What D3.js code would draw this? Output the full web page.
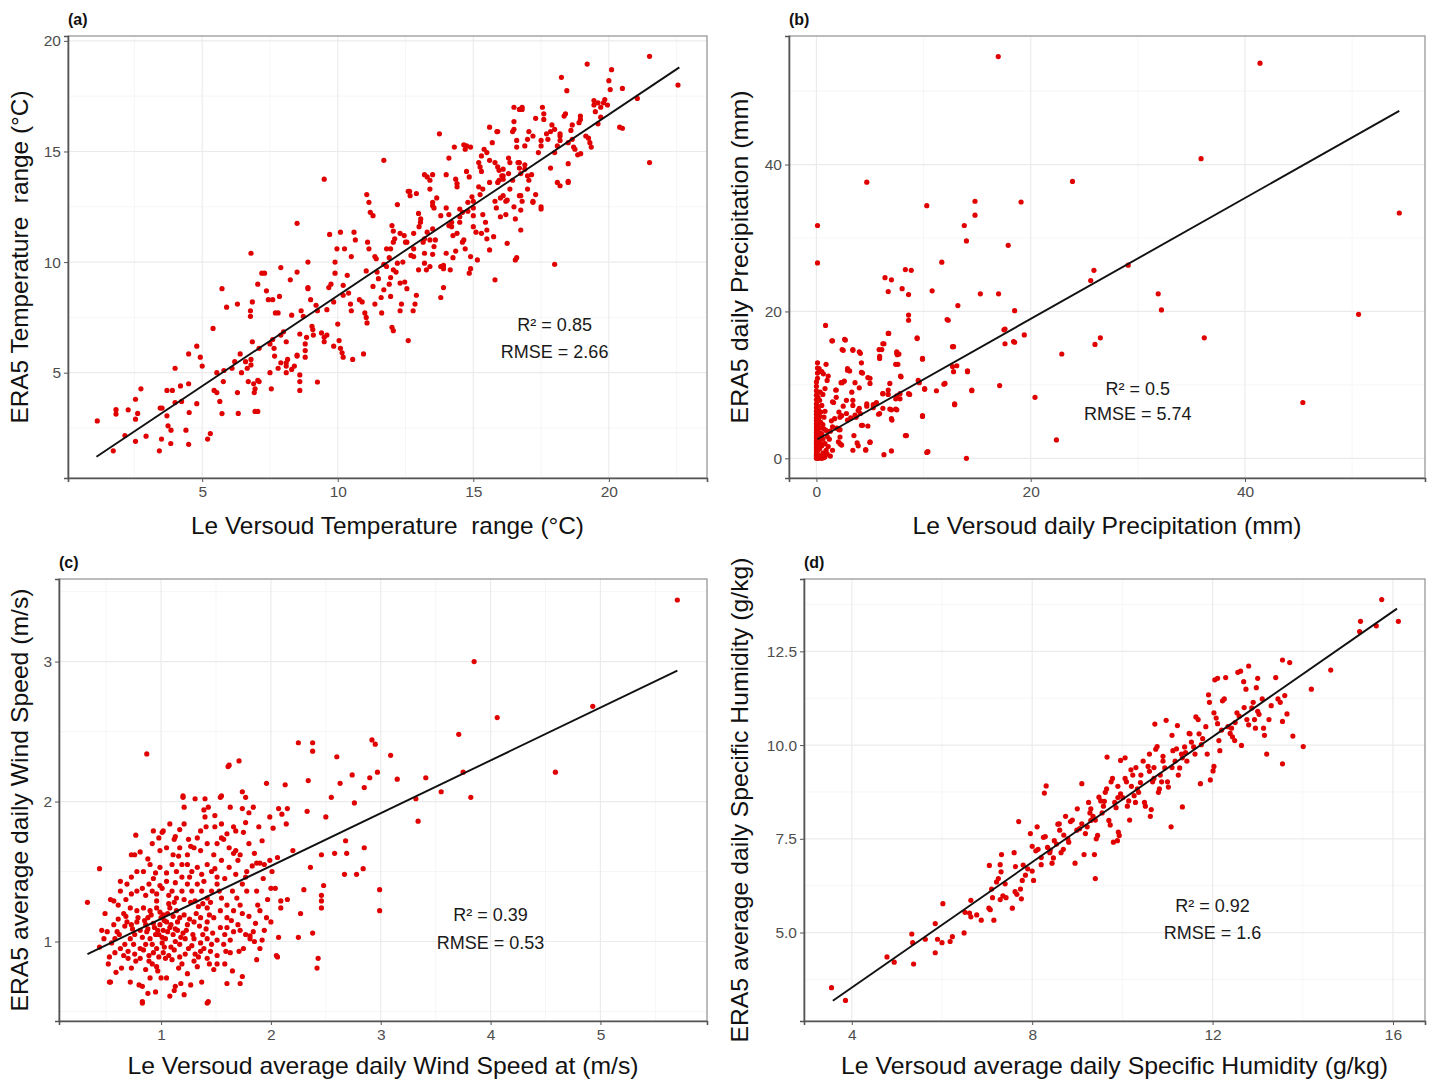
<!DOCTYPE html>
<html>
<head>
<meta charset="utf-8">
<script src="https://cdn.jsdelivr.net/npm/d3@7"></script>
<style>
  body { margin: 0; background: #fff; }
  svg { display: block; }
  text { font-family: 'Liberation Sans', Arial, sans-serif; }
</style>
</head>
<body>
<svg id="chart" width="1432" height="1080"></svg>
<script>
// ---- (a) daily temperature range: [station, ERA5] ----
const tempRange = [
  [1.13,2.82],[1.72,1.47],[1.82,3.33],[1.82,3.13],[2.15,2.16],[2.27,3.32],[2.54,3.8],[2.54,2.9],[2.54,1.9],[2.62,3.16],
  [2.74,4.27],[2.93,2.13],[3.42,1.47],[3.45,3.4],[3.52,3.4],[3.5,2.0],[3.7,4.2],[3.9,4.2],[3.7,3.05],[3.74,2.6],
  [3.85,2.4],[3.84,1.8],[4.0,5.2],[4.0,3.65],[4.2,4.4],[4.24,3.7],[4.4,2.4],[4.5,1.76],[4.5,5.85],[4.52,3.2],
  [4.5,4.5],[4.8,6.2],[4.8,3.6],[4.93,5.7],[5.0,5.3],[5.2,2.0],[5.3,2.25],[5.4,7.0],[5.44,4.2],[5.54,4.1],
  [5.54,5.0],[5.65,3.7],[5.73,3.15],[5.73,8.8],[5.78,4.6],[5.8,5.1],[5.9,7.96],[6.1,5.2],[6.2,5.5],[6.3,4.1],
  [6.4,5.85],[6.33,3.16],[6.3,8.1],[6.45,5.0],[6.6,5.5],[6.66,5.2],[6.7,4.6],[6.78,7.8],[6.78,7.55],[6.8,10.4],
  [6.85,8.2],[6.85,6.4],[6.8,5.35],[6.8,5.6],[6.9,4.5],[6.95,4.27],[6.92,4.1],[6.95,3.25],[7.05,3.25],[7.05,4.65],
  [7.1,4.6],[7.1,6.1],[7.2,9.5],[7.3,9.5],[7.05,9.0],[7.37,8.7],[7.44,8.3],[7.6,8.3],[7.5,6.3],[7.6,6.5],
  [7.5,5.0],[7.55,4.27],[7.65,6.1],[7.67,5.75],[7.7,7.7],[7.8,7.7],[7.8,5.2],[7.9,5.45],[7.9,9.75],[7.85,8.45],
  [7.9,6.7],[8.0,6.85],[8.1,6.4],[8.1,5.0],[8.1,5.3],[8.1,5.45],[8.15,5.6],[8.3,5.15],[8.25,9.2],[8.3,7.6],
  [8.4,5.3],[8.5,5.75],[8.5,5.8],[8.5,9.55],[8.5,11.75],[8.6,4.9],[8.6,4.6],[8.6,4.2],[8.6,6.75],[8.65,7.8],
  [8.73,7.55],[8.8,5.7],[8.8,6.0],[8.8,6.3],[8.85,6.6],[8.9,8.8],[8.9,8.85],[8.9,10.0],[9.0,8.3],[9.05,7.1],
  [9.08,6.95],[9.1,6.7],[9.2,8.05],[9.25,7.8],[9.25,4.58],[9.4,6.8],[9.5,6.6],[9.5,6.4],[9.5,13.75],[9.6,7.85],
  [9.6,6.7],[9.67,8.85],[9.75,9.0],[9.7,11.25],[9.85,8.2],[9.85,6.2],[9.9,10.0],[9.9,9.5],[9.97,10.6],[10.0,7.2],
  [10.05,6.45],[10.1,6.1],[10.16,5.9],[10.1,11.35],[10.2,8.95],[10.2,8.5],[10.2,5.7],[10.25,10.6],[10.35,9.4],[10.4,8.6],
  [10.47,8.1],[10.5,7.8],[10.5,10.25],[10.55,5.6],[10.6,11.35],[10.65,11.0],[10.8,8.3],[10.9,8.2],[11.0,7.7],[11.05,7.5],
  [11.08,7.25],[10.95,5.85],[11.05,9.6],[11.07,13.05],[11.15,12.7],[11.1,10.9],[11.15,10.6],[11.2,12.25],[11.3,12.1],[11.3,8.9],
  [11.37,8.1],[11.37,10.25],[11.42,10.15],[11.45,9.55],[11.5,9.25],[11.6,8.4],[11.62,7.7],[11.7,14.6],[11.8,10.6],[11.9,10.2],
  [11.9,9.0],[11.95,9.3],[12.0,11.65],[12.05,11.4],[12.1,11.05],[12.15,9.55],[12.2,9.95],[12.0,7.05],[12.05,6.9],[12.2,12.6],
  [12.3,7.8],[12.35,8.1],[12.45,11.2],[12.5,10.9],[12.47,9.1],[12.55,8.8],[12.6,6.45],[12.65,13.2],[12.67,13.0],[12.7,10.3],
  [12.8,10.6],[12.78,7.8],[12.85,8.1],[12.9,8.5],[12.98,12.2],[13.06,11.95],[12.98,9.65],[13.15,10.9],[13.2,11.05],[13.3,11.35],
  [13.2,9.95],[13.27,9.65],[13.3,13.85],[13.4,13.7],[13.5,12.55],[13.55,12.45],[13.65,12.9],[13.5,10.35],[13.55,10.7],[13.75,15.8],
  [13.8,8.4],[13.85,9.8],[13.9,9.7],[13.9,9.85],[13.9,8.85],[14.0,12.45],[14.1,12.15],[14.1,14.7],[14.1,11.65],[14.2,11.6],
  [14.25,11.2],[14.25,10.2],[14.35,10.5],[14.35,13.75],[14.4,13.55],[14.4,13.4],[14.5,11.8],[14.5,12.05],[14.6,12.25],[14.6,10.9],
  [14.7,10.6],[14.7,15.1],[14.75,15.25],[14.75,14.1],[14.85,13.85],[14.85,9.5],[14.9,9.7],[14.95,12.95],[15.0,12.75],[15.0,12.45],
  [15.0,11.6],[15.1,11.35],[15.2,14.5],[15.25,14.3],[15.2,13.4],[15.25,13.05],[15.35,13.3],[15.35,12.15],[15.45,11.8],[15.5,11.05],
  [15.5,14.95],[15.6,14.6],[15.7,15.4],[15.8,9.2],[15.8,12.75],[15.85,12.45],[15.87,15.9],[15.95,14.15],[15.95,13.7],[16.05,13.9],
  [16.1,13.75],[16.1,13.0],[16.2,12.75],[16.2,12.15],[16.3,14.7],[16.35,14.5],[16.35,13.3],[16.45,13.7],[16.45,15.9],[16.5,16.35],
  [16.55,11.95],[16.6,10.2],[16.65,14.5],[16.7,14.25],[16.75,14.0],[16.7,13.0],[16.8,12.75],[16.75,12.35],[16.7,16.9],[16.8,16.9],
  [16.9,15.25],[17.0,15.55],[17.05,15.9],[17.05,13.7],[17.15,13.95],[17.2,12.75],[17.3,13.05],[17.4,14.95],[17.5,15.25],[17.5,12.4],
  [17.55,17.0],[17.6,16.45],[17.75,15.55],[17.85,15.9],[17.9,16.2],[18.0,14.95],[18.0,9.9],[18.1,15.25],[18.2,15.5],[18.2,15.8],
  [18.2,13.45],[18.25,18.35],[18.35,16.6],[18.4,16.7],[18.45,17.75],[18.5,14.45],[18.5,13.6],[18.6,15.95],[18.65,15.55],[18.75,15.1],
  [18.85,14.85],[18.9,16.3],[18.95,16.6],[19.2,18.95],[19.25,15.6],[19.35,15.2],[19.45,17.1],[19.5,16.8],[19.6,17.2],[19.6,16.25],
  [19.7,16.55],[19.8,17.2],[19.85,17.35],[20.0,18.2],[20.1,18.7],[20.05,17.8],[20.4,16.1],[20.5,16.05],[20.5,17.85],[21.05,17.4],
  [21.5,19.3],[21.5,14.5],[22.55,18.0],
  [13.6,11.0],[14.8,12.3],[15.6,13.6],[16.0,12.9],[16.9,14.4],[13.0,11.6],[12.4,10.0],[11.7,9.9],[15.3,14.1],[16.6,15.2],
  [13.2,13.95],[13.5,13.95],[12.6,13.2],[12.9,13.1],[13.4,13.3],[13.5,12.7],[14.0,13.95],[14.3,15.2],[14.65,15.3],[14.9,15.2],
  [15.3,14.8],[15.4,15.1],[15.6,16.1],[15.9,15.9],[15.8,14.5],[15.9,14.3],[16.1,14.2],[16.3,14.0],[15.9,13.6],[16.1,13.9],
  [16.5,16.0],[16.6,15.5],[16.7,14.5],[16.9,14.2],[17.0,13.9],[16.5,17.0],[16.8,17.0],[17.3,16.5],[17.6,16.7],[17.2,15.7],
  [17.5,15.5],[17.7,15.8],[18.0,16.0],[18.2,15.7],[18.5,15.4],[18.65,16.2],[18.95,16.45],[18.7,15.2],[18.96,14.9],[17.85,14.25],
  [18.1,13.6],[18.5,13.65],[19.45,17.3],[19.7,17.0],[19.95,17.1],[19.15,15.7],[19.3,15.4],[14.5,12.4],[14.8,12.7],[15.0,12.1],
  [14.2,11.8],[14.4,11.3],[14.65,11.0],[13.8,12.1],[13.5,11.5],[13.4,11.0],[13.05,11.8],[12.8,11.3],[12.55,10.9],[12.3,11.3],
  [12.05,10.9],[11.95,10.6],[12.8,10.25],[13.2,10.4],[13.4,9.8],[13.8,9.8],[14.15,9.65],[14.0,10.4],[11.8,9.8],[12.05,9.65],
  [12.3,9.05],[11.7,8.75],[11.95,8.45],[14.9,10.25],[15.15,10.1],[15.6,10.55],[15.3,11.3],[15.5,11.45],[15.75,11.15],[16.0,12.05],
  [16.25,12.8],[16.5,12.5],[16.75,13.0],[17.0,13.3],[17.2,12.7],[16.25,10.85],[16.75,11.45],[16.55,10.1],[17.5,12.5]
];
const tempFit = [[1.1, 1.2], [22.6, 18.8]];

// ---- (b) daily precipitation (mm) ----
const precip = [
  [16.97,54.7],[41.4,53.8],[35.9,40.8],[4.7,37.6],[23.9,37.7],[14.8,35.0],[19.1,34.9],[10.3,34.4],[14.8,33.1],[54.4,33.4],
  [0.1,31.7],[13.8,31.7],[14.0,29.6],[17.9,29.0],[0.1,26.6],[11.7,26.7],[29.1,26.3],[25.9,25.6],[8.3,25.7],[8.85,25.6],
  [6.4,24.6],[7.0,24.3],[25.6,24.2],[8.0,23.1],[6.7,22.7],[10.8,22.8],[8.6,22.3],[15.3,22.4],[17.0,22.4],[31.9,22.4],
  [13.2,20.8],[18.5,20.1],[32.2,20.2],[50.6,19.6],[8.6,19.5],[8.6,18.8],[12.3,18.8],[0.85,18.1],[17.5,17.5],[6.75,17.0],
  [19.4,16.8],[36.2,16.4],[26.5,16.4],[26.0,15.5],[9.4,16.3],[1.5,16.0],[2.7,16.1],[6.3,15.6],[17.6,15.6],[18.5,15.8],
  [12.7,15.2],[3.4,14.7],[4.1,14.3],[2.5,14.7],[6.1,14.8],[5.9,13.9],[7.5,14.3],[7.7,14.2],[7.4,12.8],[7.6,12.8],
  [22.9,14.2],[9.9,13.5],[0.1,13.0],[0.1,12.3],[0.1,11.6],[0.1,10.9],[0.9,12.8],[2.9,12.0],[3.1,11.9],[13.1,12.6],
  [12.8,11.8],[14.1,11.8],[4.3,11.6],[0.65,11.5],[1.1,11.2],[7.9,11.1],[5.0,10.9],[3.6,10.3],[2.3,10.3],[2.6,10.5],
  [9.6,10.3],[11.9,10.1],[17.1,9.9],[1.8,9.3],[3.3,9.0],[10.1,9.4],[11.2,9.2],[14.5,9.2],[6.2,8.8],[6.7,8.7],
  [8.7,8.7],[7.5,8.5],[20.4,8.3],[45.4,7.6],[1.6,7.6],[2.8,7.9],[3.4,7.9],[5.6,7.6],[4.7,7.4],[5.3,6.9],
  [7.0,6.6],[7.5,6.6],[12.9,7.3],[3.9,6.5],[4.1,6.1],[2.1,6.3],[2.35,5.8],[3.2,5.5],[3.6,5.9],[9.9,5.7],
  [5.8,6.0],[7.05,5.2],[1.7,5.4],[1.4,5.1],[1.9,4.1],[2.1,3.9],[4.3,4.5],[4.8,4.4],[1.3,3.7],[3.5,3.1],
  [8.3,3.1],[2.05,2.25],[2.35,1.8],[3.8,2.1],[5.0,2.2],[22.4,2.5],[3.4,1.1],[4.6,1.1],[1.5,1.1],[6.3,0.5],
  [7.0,1.0],[10.3,0.8],[14.0,0.0],
  [1.44,16.0],[2.63,16.2],[2.4,14.8],[3.4,14.8],[4.0,14.5],[2.9,12.2],[4.2,11.7],[4.8,11.0],[2.4,10.3],[4.0,9.6],
  [5.0,10.2],[1.85,9.3],[1.85,8.3],[1.5,7.7],[2.5,7.1],[2.8,6.1],[3.4,7.2],[4.0,6.8],[4.7,7.1],[5.3,7.3],
  [2.2,5.6],[2.9,5.2],[3.7,5.6],[4.2,4.5],[1.5,4.3],[2.2,3.9],[2.2,2.9],[2.2,2.0],[3.9,1.7],[4.6,1.2],
  [5.0,2.2],[8.4,3.1],[5.9,6.1],[6.2,6.8],[6.85,6.7],[7.4,6.7],[7.0,5.4],[7.8,8.8],[7.85,11.2],[6.2,8.8],
  [6.7,9.3],[7.4,8.1],[7.8,8.1],[8.6,8.8],[9.5,10.6],[10.1,9.5],[12.0,10.2],[9.9,5.8],[10.4,0.9],[14.5,9.3],
  [12.7,12.5],[14.1,11.9],[12.9,7.4],[12.8,15.2],[12.2,18.9],[9.4,16.4],[9.9,13.6],[6.7,17.0],[5.85,14.8],[6.2,15.6],
  [7.5,14.5],[7.55,14.1],[5.9,13.6],[4.2,13.0],[6.85,10.2],[18.4,15.9],[17.6,17.6],
  // column of near-zero station values
  [0,0],[0,0.2],[0,0.4],[0,0.6],[0,0.9],[0,1.2],[0,1.5],[0,1.8],[0,2.1],[0,2.4],
  [0,2.8],[0,3.1],[0,3.5],[0,3.9],[0,4.3],[0,4.7],[0,5.1],[0,5.5],[0,6.0],[0,6.4],
  [0,6.9],[0,7.4],[0,8.0],[0,8.6],[0,9.2],[0,9.8],[0,10.4],[0.05,0.1],[0.1,0.5],[0.1,1.0],
  [0.15,1.6],[0.2,2.3],[0.2,3.0],[0.1,3.7],[0.15,4.4],[0.2,5.2],[0.1,5.9],[0.2,6.6],[0.1,7.1],[0.3,7.9],
  [0.3,0.3],[0.3,1.3],[0.4,2.0],[0.3,2.7],[0.4,3.4],[0.3,4.1],[0.4,4.9],[0.3,5.7],[0.4,6.3],[0.5,7.2],
  [0.5,0.0],[0.6,0.7],[0.5,1.7],[0.6,2.6],[0.5,3.3],[0.7,4.0],[0.6,4.6],[0.7,5.6],[0.6,8.7],[0.8,9.5],
  [0.8,0.2],[0.9,1.1],[0.8,2.0],[1.0,3.0],[0.9,3.8],[1.0,0.6],[1.1,1.6],[1.2,2.6],[0.8,6.4],[1.0,10.6],
  [0.2,0.0],[0.4,0.1],[0.7,0.1],[0.25,1.9],[0.45,2.9],[0.15,8.3],[0.35,9.0],[0.5,11.8],[0.25,12.2],[1.3,0.3]
];
const precipFit = [[0.1, 2.6], [54.4, 47.3]];

// ---- (c) average daily wind speed (m/s) ----
const wind = [
  [5.70,3.44],[3.85,3.0],[4.93,2.68],[4.06,2.60],[3.71,2.48],[4.59,2.21],[3.82,2.03],[3.55,2.07],[3.75,2.21],[3.41,2.17],
  [3.32,2.02],[3.34,1.86],[3.15,2.16],[3.09,2.33],[2.99,1.37],[2.99,1.22],[2.92,2.44],[2.95,2.41],[2.90,2.17],[2.97,2.21],
  [2.60,2.32],[2.38,2.42],[2.38,2.36],[2.25,2.42],[2.43,0.88],[2.42,0.81],[2.38,1.06],[2.74,2.19],[2.63,2.13],[2.85,2.10],
  [2.76,1.99],[2.85,1.67],[2.84,1.52],[2.78,1.48],[2.67,1.48],[2.55,2.03],[2.50,1.89],[2.34,2.15],[2.33,1.93],[2.46,1.62],
  [2.48,1.40],[2.46,1.33],[2.46,1.29],[2.46,1.24],[2.58,1.63],[2.69,1.63],[2.68,1.72],[0.87,2.34],[1.61,2.25],[1.71,2.29],
  [1.96,2.13],[2.13,2.12],[1.31,2.02],[1.40,2.02],[1.20,2.03],[1.54,2.03],[1.43,0.57],[0.83,0.57],[0.54,0.71],[0.33,1.28],
  [0.44,1.52],[2.30,1.37],[2.27,1.20],[2.36,1.53],[2.20,1.65],[2.15,1.30],[2.05,0.90],[2.25,1.03],
  [0.77,1.76],[0.73,1.62],[0.76,1.62],[0.81,1.64],[0.88,1.59],[0.92,1.70],[0.98,1.74],[1.01,1.78],[1.12,1.73],[1.13,1.75],
  [1.17,1.80],[1.21,1.84],[1.20,2.04],[1.21,1.96],[1.25,1.73],[1.27,1.68],[1.40,1.89],[1.41,1.82],[1.49,1.90],[1.49,1.82],
  [1.55,2.04],[1.55,1.84],[1.62,2.26],[1.63,1.96],[1.68,1.79],[1.74,2.07],[1.77,2.03],[1.74,1.95],[1.84,1.96],[1.80,1.92],
  [1.77,1.85],[1.75,1.78],[2.07,1.95],[2.10,1.91],[2.15,1.95],[2.14,1.84],[1.99,1.89],[2.02,1.81],[1.89,1.82],[1.92,1.72],
  [1.66,1.82],[1.60,1.77],[1.57,1.73],[1.66,1.63],[1.68,1.65],[1.72,1.62],[1.87,1.56],[1.90,1.56],[1.94,1.55],[1.83,1.54],
  [1.78,1.50],[1.77,1.46],[1.74,1.41],[1.78,1.36],[1.72,1.26],[1.74,1.20],[1.87,1.36],[1.88,1.26],[1.90,1.22],[1.99,1.58],
  [2.06,1.60],[2.00,1.38],[2.04,1.38],[2.09,1.29],[2.09,1.24],[2.00,1.14],[1.94,1.08],[1.92,1.01],[1.85,1.00],[1.81,1.02],
  [1.90,0.95],[1.87,0.87],[2.06,0.89],[2.07,1.03],[1.74,0.75],[1.72,0.70],[1.60,0.70],[1.42,0.56],[0.83,0.56],[0.95,0.64],
  [1.08,0.61],[1.12,0.65],[1.13,0.68],[0.80,0.69],[0.83,0.68],[0.72,0.71],[0.53,0.71],[0.90,0.74],[1.00,0.74],[1.05,0.74],
  [1.24,0.77],[1.27,0.69],[1.37,0.71],[1.48,0.80],[1.51,0.84],[1.65,0.79],[0.64,0.81],[0.73,0.81],[0.52,0.84],[0.53,0.89],
  [0.63,0.95],[0.66,0.90],[0.77,0.86],[0.81,0.88],[0.89,0.90],[0.92,0.84],[0.96,0.82],[1.04,0.88],[1.10,0.87],[1.16,0.81],
  [1.19,0.84],[1.30,0.86],[1.31,0.91],[1.36,0.93],[1.42,0.88],[1.45,0.93],[1.51,0.90],[1.59,0.93],[1.63,0.92],[1.71,0.93],
  [1.75,0.95],[0.55,0.99],[0.58,1.02],[0.48,1.02],[0.46,1.08],[0.51,1.07],[0.57,1.12],[0.61,1.16],[0.60,1.07],[0.67,1.11],
  [0.69,1.14],[0.73,1.12],[0.78,1.14],[0.81,1.08],[0.86,1.12],[0.87,1.07],[0.90,1.02],[0.95,1.05],[0.99,1.12],[1.02,1.08],
  [1.05,1.14],[1.08,1.10],[1.11,1.05],[1.13,1.00],[1.01,0.99],[0.96,0.95],[0.92,0.98],[0.86,0.98],[0.81,0.95],[0.75,0.98],
  [0.72,1.02],[0.67,0.98],[1.17,0.98],[1.22,1.02],[1.25,0.95],[1.30,1.02],[1.36,0.99],[1.42,1.02],[1.46,0.98],[1.51,1.01],
  [1.57,0.98],[1.63,1.01],[1.66,1.07],[1.72,1.08],[1.77,1.05],[1.81,1.04],[1.84,1.07],[1.54,1.10],[1.60,1.10],[1.48,1.17],
  [1.42,1.14],[1.36,1.17],[1.30,1.14],[1.24,1.12],[1.17,1.17],[1.14,1.22],[1.08,1.24],[1.02,1.19],[0.96,1.24],[0.90,1.22],
  [0.84,1.24],[0.78,1.22],[0.72,1.24],[0.66,1.20],[0.61,1.26],[0.57,1.29],[0.54,1.30],[0.63,1.36],[0.63,1.43],[0.73,1.34],
  [0.78,1.36],[0.83,1.38],[0.89,1.41],[0.92,1.36],[0.96,1.34],[1.01,1.38],[1.05,1.43],[1.10,1.36],[1.14,1.31],[1.19,1.36],
  [1.24,1.41],[1.28,1.36],[1.33,1.41],[1.37,1.36],[1.42,1.31],[1.46,1.36],[1.51,1.41],[1.55,1.31],[1.60,1.26],[1.65,1.36],
  [1.69,1.31],[1.66,1.22],[1.54,1.22],[1.60,1.17],[1.42,1.24],[1.34,1.25],[0.84,1.50],[0.90,1.55],[0.95,1.49],[0.99,1.53],
  [1.05,1.49],[1.10,1.55],[1.14,1.50],[1.19,1.46],[1.24,1.55],[1.28,1.50],[1.33,1.53],[1.37,1.48],[1.42,1.55],[1.46,1.50],
  [1.51,1.46],[1.55,1.58],[1.62,1.53],[0.78,1.50],[0.73,1.46],[0.69,1.41],[0.99,1.65],[1.05,1.67],[1.11,1.62],[1.17,1.67],
  [1.24,1.62],[1.30,1.67],[1.36,1.65],[1.42,1.70],[1.48,1.62],[1.51,1.70],[1.55,1.74],[1.33,1.74],[1.36,1.79],[1.08,1.84],
  [1.02,1.79],[0.93,1.79],[1.39,1.94],[1.43,1.96],[1.16,1.61],[1.19,1.55],
  [0.98,1.05],[1.04,1.02],[1.09,0.96],[0.94,1.10],[1.00,1.17],[1.06,1.20],[0.88,1.17],[0.76,1.05],[1.15,1.08],[1.20,1.06],
  [0.70,0.88],[0.86,0.80],[1.02,0.92],[1.27,1.28],[1.38,1.05],[0.96,1.29],[1.12,1.28],[0.68,1.30],[1.58,0.84],[1.33,0.82],
  [0.62,1.05],[0.68,1.18],[0.74,1.09],[0.79,1.17],[0.83,1.03],[0.85,1.15],[0.88,1.09],[0.91,1.19],[0.93,1.13],[0.97,1.08],
  [0.99,1.21],[1.01,1.03],[1.03,1.15],[1.06,1.07],[1.07,1.27],[1.09,1.12],[1.11,1.18],[1.13,1.09],[1.15,1.14],[1.18,1.03],
  [1.21,1.19],[1.23,1.08],[1.26,1.16],[1.29,1.05],[1.32,1.20],[1.35,1.11],[1.38,1.27],[1.41,1.09],[1.44,1.19],[1.47,1.06],
  [0.70,0.93],[0.76,0.91],[0.84,0.94],[0.89,0.86],[0.93,0.92],[0.98,0.89],[1.03,0.96],[1.07,0.90],[1.12,0.94],[1.17,0.89],
  [1.22,0.91],[1.28,0.97],[1.34,0.89],[1.39,0.95],[1.44,0.84],[0.86,1.33],[0.93,1.45],[0.99,1.40],[1.07,1.33],[1.13,1.42],
  [1.21,1.30],[1.26,1.46],[1.31,1.29],[1.39,1.43],[1.45,1.28],[1.49,1.52],[1.53,1.36],[1.58,1.45],[1.62,1.67],[1.68,1.48],
  [1.70,1.58],[1.80,1.70],[1.85,1.63],[1.93,1.45],[1.97,1.30],[2.01,1.50],[1.58,1.05],[1.64,1.15],[1.70,1.12],[1.80,1.18],
  [1.86,1.13],[1.96,1.17],[0.58,0.92],[0.49,1.20],[0.44,0.96],[0.59,0.78],[0.88,0.63],[1.18,0.70],[1.21,0.62],[0.97,0.79]
];
const windFit = [[0.33, 0.91], [5.70, 2.935]];

// ---- (d) average daily specific humidity (g/kg) ----
const humidity = [
  [3.55,3.53],[3.86,3.19],[4.78,4.35],[4.94,4.21],[5.37,4.16],[5.33,4.96],[5.35,4.73],[5.63,4.82],[5.85,4.46],[5.85,5.24],
  [5.90,4.82],[6.0,4.73],[6.02,5.77],[6.18,4.76],[6.23,4.89],[6.49,4.99],[6.51,5.54],[6.61,5.52],[6.64,5.42],[6.77,5.47],
  [6.64,5.86],[6.87,5.33],[7.04,5.65],[7.07,5.61],[7.05,6.79],[7.10,6.16],[7.12,5.93],[7.15,5.33],[7.21,6.35],[7.25,6.44],
  [7.29,6.81],[7.31,6.62],[7.29,5.88],[7.35,5.98],[7.42,5.93],[7.32,7.08],[7.56,5.65],[7.60,7.13],[7.63,6.76],[7.62,6.09],
  [7.66,6.02],[7.74,6.16],[7.70,7.96],[7.76,5.90],[7.78,6.39],[7.85,6.53],[8.0,6.64],[8.03,6.39],[8.08,7.18],[8.13,7.22],
  [7.96,7.64],[8.11,7.82],[8.20,6.81],[8.25,7.54],[8.29,7.56],[8.27,8.72],[8.31,8.91],[8.34,7.27],[8.39,7.13],[8.44,6.85],
  [8.47,6.99],[8.49,7.45],[8.54,7.36],[8.57,7.89],[8.61,7.73],[8.64,7.13],[8.69,7.22],[8.74,8.10],[8.79,7.50],[8.81,7.41],
  [8.85,7.96],[8.89,8.0],[8.95,6.85],[8.99,7.73],[9.05,7.77],[9.1,8.97],[9.15,7.08],[9.18,7.64],[9.22,7.82],[9.25,8.47],
  [9.28,8.19],[9.30,7.99],[9.35,8.10],[9.38,7.08],[9.40,6.44],[9.42,7.50],[9.45,7.59],[9.48,8.61],[9.52,8.51],[9.55,8.19],
  [9.58,8.37],[9.62,8.74],[9.65,8.83],[9.66,9.68],[9.70,7.99],[9.73,7.87],[9.75,9.02],[9.78,9.11],[9.83,8.47],[9.86,8.33],
  [9.80,7.41],[9.89,7.45],[9.91,7.68],[9.93,7.59],[9.96,9.59],[10.06,9.66],[9.96,8.70],[10.01,8.60],[10.06,9.11],[10.09,9.02],
  [10.11,8.37],[10.14,8.51],[10.16,8.0],[10.19,9.34],[10.23,9.20],[10.26,8.65],[10.29,8.47],[10.33,8.83],[10.36,8.74],[10.41,9.20],
  [10.46,9.57],[10.49,8.47],[10.51,8.37],[10.57,9.43],[10.60,9.76],[10.62,8.10],[10.64,8.28],[10.67,9.02],[10.70,9.11],[10.72,10.56],
  [10.74,9.89],[10.77,9.96],[10.80,8.74],[10.82,8.83],[10.84,9.20],[10.87,9.02],[10.90,9.57],[10.94,9.39],[10.97,10.66],[11.0,9.02],
  [11.02,8.88],[11.08,7.82],[11.10,10.26],[11.12,9.85],[11.17,9.57],[11.22,10.52],[11.24,9.20],[11.27,9.39],[11.31,9.76],[11.33,9.66],
  [11.33,8.35],[11.38,9.95],[11.43,9.57],[11.48,10.31],[11.53,10.08],[11.58,9.95],[11.61,9.76],[11.63,10.75],[11.68,10.68],[11.73,8.97],
  [11.75,10.01],[11.78,10.17],[11.85,10.49],[11.88,9.76],[11.91,11.34],[11.93,11.14],[11.95,9.07],[12.01,9.31],[12.03,9.43],[12.03,10.86],
  [12.08,10.72],[12.11,10.57],[12.05,11.74],[12.11,11.78],[12.14,10.12],[12.16,9.85],[12.22,11.18],[12.26,11.23],[12.29,11.80],[12.34,10.49],
  [12.39,10.31],[12.42,10.45],[12.44,10.22],[12.49,10.12],[12.54,10.86],[12.59,10.77],[12.56,11.94],[12.62,11.97],[12.64,9.99],[12.69,11.69],
  [12.74,11.49],[12.76,10.68],[12.80,10.54],[12.80,12.11],[12.87,10.99],[12.90,11.14],[12.93,10.68],[12.95,10.45],[12.97,11.53],[13.0,11.78],
  [13.03,10.82],[13.10,11.23],[13.13,10.45],[13.15,10.26],[13.20,9.76],[13.25,10.68],[13.30,11.05],[13.40,11.80],[13.45,11.23],[13.50,11.14],
  [13.55,12.27],[13.71,12.20],[13.55,10.63],[13.55,9.50],[13.60,11.32],[13.65,10.83],[13.78,10.24],[14.01,9.96],[14.19,11.49],[14.62,12.0],
  [15.28,13.30],[15.26,13.03],[15.63,13.18],[15.75,13.88],[16.12,13.30],
  [8.6,7.9],[9.0,8.3],[9.4,8.0],[9.9,8.9],[10.3,9.4],[10.6,9.3],[11.1,9.4],[11.5,10.3],[8.2,7.0],[7.8,6.8],
  [7.4,6.3],[7.9,6.7],[8.4,7.2],[8.7,7.6],[9.1,7.9],[9.3,8.3],[9.6,8.5],[9.9,8.6],[10.2,8.9],[10.4,9.0],
  [10.7,9.4],[10.9,9.7],[11.2,9.9],[11.4,9.8],[11.7,10.3],[12.2,10.4],[12.5,10.6],[12.7,11.0],[13.0,10.9],[8.0,7.3]
];
const humidityFit = [[3.58, 3.18], [16.09, 13.64]];

// ---- texts ----
const panelTags = ['(a)', '(b)', '(c)', '(d)'];
const xTitles = [
  'Le Versoud Temperature  range (°C)',
  'Le Versoud daily Precipitation (mm)',
  'Le Versoud average daily Wind Speed at (m/s)',
  'Le Versoud average daily Specific Humidity (g/kg)'
];
const yTitles = [
  'ERA5 Temperature  range (°C)',
  'ERA5 daily Precipitation (mm)',
  'ERA5 average daily Wind Speed (m/s)',
  'ERA5 average daily Specific Humidity (g/kg)'
];
const statsR2 = ['R² = 0.85', 'R² = 0.5', 'R² = 0.39', 'R² = 0.92'];
const statsRMSE = ['RMSE = 2.66', 'RMSE = 5.74', 'RMSE = 0.53', 'RMSE = 1.6'];

const xTickVals = [[5, 10, 15, 20], [0, 20, 40], [1, 2, 3, 4, 5], [4, 8, 12, 16]];
const yTickVals = [[5, 10, 15, 20], [0, 20, 40], [1, 2, 3], [5, 7.5, 10, 12.5]];

// ---- layout (pixel boxes, domains, label anchors) ----
const PANELS = [
  { pts: tempRange, fit: tempFit, box: { l: 68, t: 36, r: 707, b: 478 },
    xDom: [0.05, 23.62], yDom: [0.24, 20.22], yFmt: d3.format('d'),
    stat: [18, 7.15, 5.95], xTitleW: 393, yTitleW: 333, yTitleX: 20, xTitleY: 534 },
  { pts: precip, fit: precipFit, box: { l: 789, t: 36, r: 1425, b: 478 },
    xDom: [-2.56, 56.8], yDom: [-2.68, 57.5], yFmt: d3.format('d'),
    stat: [30, 9.5, 6.0], xTitleW: 389, yTitleW: 333, yTitleX: 740, xTitleY: 534 },
  { pts: wind, fit: windFit, box: { l: 59, t: 579, r: 707, b: 1021 },
    xDom: [0.071, 5.97], yDom: [0.432, 3.59], yFmt: d3.format('d'),
    stat: [4.0, 1.19, 0.99], xTitleW: 511, yTitleW: 423, yTitleX: 20, xTitleY: 1074 },
  { pts: humidity, fit: humidityFit, box: { l: 804, t: 579, r: 1425, b: 1021 },
    xDom: [2.94, 16.71], yDom: [2.64, 14.43], yFmt: d3.format('.1f'),
    stat: [12.0, 5.7, 5.0], xTitleW: 547, yTitleW: 485, yTitleX: 740, xTitleY: 1074 }
];

const svg = d3.select('#chart');
svg.append('rect').attr('width', 1432).attr('height', 1080).attr('fill', '#fff');

PANELS.forEach((p, i) => drawPanel(p, i));

function minorOf(ticks, dom) {
  // midpoints between major breaks inside the panel
  const step = ticks[1] - ticks[0];
  const out = [];
  for (let v = ticks[0] - step / 2; v <= dom[1]; v += step) {
    if (v >= dom[0]) out.push(v);
  }
  return out;
}

function drawPanel(p, i) {
  const { l, t, r, b } = p.box;
  const x = d3.scaleLinear().domain(p.xDom).range([l, r]);
  const y = d3.scaleLinear().domain(p.yDom).range([b, t]);
  const g = svg.append('g');

  // grid — minor then major
  const grid = g.append('g');
  grid.selectAll('line.xm').data(minorOf(xTickVals[i], p.xDom)).join('line')
    .attr('x1', d => x(d)).attr('x2', d => x(d)).attr('y1', t).attr('y2', b)
    .attr('stroke', '#f4f4f4').attr('stroke-width', 0.8);
  grid.selectAll('line.ym').data(minorOf(yTickVals[i], p.yDom)).join('line')
    .attr('x1', l).attr('x2', r).attr('y1', d => y(d)).attr('y2', d => y(d))
    .attr('stroke', '#f4f4f4').attr('stroke-width', 0.8);
  grid.selectAll('line.xM').data(xTickVals[i]).join('line')
    .attr('x1', d => x(d)).attr('x2', d => x(d)).attr('y1', t).attr('y2', b)
    .attr('stroke', '#ebebeb').attr('stroke-width', 1.2);
  grid.selectAll('line.yM').data(yTickVals[i]).join('line')
    .attr('x1', l).attr('x2', r).attr('y1', d => y(d)).attr('y2', d => y(d))
    .attr('stroke', '#ebebeb').attr('stroke-width', 1.2);

  // points
  g.append('g').selectAll('circle').data(p.pts).join('circle')
    .attr('cx', d => x(d[0])).attr('cy', d => y(d[1]))
    .attr('r', 2.6).attr('fill', '#e00000');

  // fitted line
  g.append('path').datum(p.fit)
    .attr('d', d3.line().x(d => x(d[0])).y(d => y(d[1])))
    .attr('fill', 'none').attr('stroke', '#111').attr('stroke-width', 1.9);

  // frame
  g.append('rect').attr('x', l).attr('y', t).attr('width', r - l).attr('height', b - t)
    .attr('fill', 'none').attr('stroke', '#999').attr('stroke-width', 1.3);

  // axes
  const xAxis = g.append('g').attr('transform', `translate(0,${b})`)
    .call(d3.axisBottom(x).tickValues(xTickVals[i]).tickFormat(d3.format('d')).tickSize(4).tickPadding(4));
  const yAxis = g.append('g').attr('transform', `translate(${l},0)`)
    .call(d3.axisLeft(y).tickValues(yTickVals[i]).tickFormat(p.yFmt).tickSize(4).tickPadding(3));
  [xAxis, yAxis].forEach(a => {
    a.select('.domain').attr('stroke', '#555').attr('stroke-width', 1.6);
    a.selectAll('.tick line').attr('stroke', '#555');
    a.selectAll('.tick text').attr('fill', '#4d4d4d').attr('font-size', 15.5)
      .attr('font-family', "'Liberation Sans', Arial, sans-serif");
  });

  // stats annotation
  g.append('text').attr('x', x(p.stat[0])).attr('y', y(p.stat[1]))
    .attr('text-anchor', 'middle').attr('dominant-baseline', 'central')
    .attr('font-size', 18).attr('fill', '#1a1a1a').text(statsR2[i]);
  g.append('text').attr('x', x(p.stat[0])).attr('y', y(p.stat[2]))
    .attr('text-anchor', 'middle').attr('dominant-baseline', 'central')
    .attr('font-size', 18).attr('fill', '#1a1a1a').text(statsRMSE[i]);

  // panel tag
  g.append('text').attr('x', l).attr('y', t - 11)
    .attr('font-size', 16).attr('font-weight', 700).attr('fill', '#111')
    .text(panelTags[i]);

  // axis titles
  const cx = (l + r) / 2;
  g.append('text').attr('x', cx).attr('y', p.xTitleY)
    .attr('text-anchor', 'middle').attr('font-size', 24).attr('fill', '#111')
    .attr('textLength', p.xTitleW).attr('lengthAdjust', 'spacingAndGlyphs')
    .style('white-space', 'pre')
    .text(xTitles[i]);
  g.append('text')
    .attr('transform', `translate(${p.yTitleX + 8},${(t + b) / 2}) rotate(-90)`)
    .attr('text-anchor', 'middle').attr('font-size', 24).attr('fill', '#111')
    .attr('textLength', p.yTitleW).attr('lengthAdjust', 'spacingAndGlyphs')
    .style('white-space', 'pre')
    .text(yTitles[i]);
}
</script>
</body>
</html>
